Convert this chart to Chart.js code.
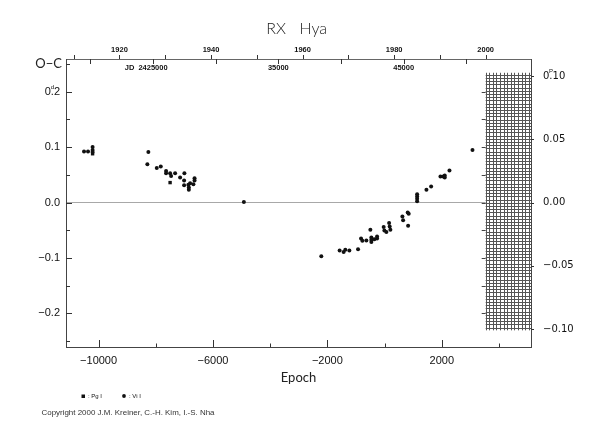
<!DOCTYPE html>
<html>
<head>
<meta charset="utf-8">
<title>RX Hya O-C</title>
<script src="https://cdn.jsdelivr.net/npm/chart.js@4"></script>
<style>
  html, body { margin: 0; padding: 0; background: #fff; }
  #wrap { width: 590px; height: 425px; }
</style>
</head>
<body>
<div id="wrap"><canvas id="chart" width="590" height="425"></canvas></div>
<script>
// ---- data (epoch, O-C in days) ----
// Vi I = visual minima (circles), Pg I = photographic minima (squares)
const viEpoch = [-10510, -10370, -10210, -10210, -10210, -8260, -8295, -7966, -7826, -7640,
  -7640, -7500, -7465, -7325, -7150, -7000, -7010, -7010, -6860, -6845,
  -6845, -6800, -6685, -6645, -6645, -4920, -2213, -1572, -1432, -1373,
  -1232, -928, -823, -777, -637, -497, -462, -462, -462, -357,
  -263, -263, -32, -7, 63, 158, 179, 203, 623, 648,
  809, 844, 823, 1138, 1138, 1138, 1138, 1464, 1628, 1954,
  2048, 2104, 2104, 2269, 3074];
const viOC = [0.092, 0.092, 0.100, 0.095, 0.091, 0.091, 0.069, 0.0625, 0.065, 0.057,
  0.053, 0.053, 0.048, 0.053, 0.045, 0.053, 0.040, 0.031, 0.032, 0.027,
  0.023, 0.035, 0.033, 0.044, 0.040, 0.001, -0.097, -0.0865, -0.089, -0.085,
  -0.0865, -0.084, -0.065, -0.069, -0.0685, -0.049, -0.063, -0.067, -0.071, -0.066,
  -0.065, -0.061, -0.044, -0.0505, -0.053, -0.037, -0.043, -0.049, -0.025, -0.032,
  -0.018, -0.020, -0.042, 0.015, 0.011, 0.007, 0.0025, 0.023, 0.029, 0.047,
  0.047, 0.049, 0.045, 0.058, 0.095];
const pgEpoch = [-10210, -7500];
const pgOC = [0.088, 0.036];

// ---- axes ----
const epochMin = -11140, epochMax = 5120;
const ocMin = -0.2605, ocMax = 0.2589;
const epochLabels = [-10000, -6000, -2000, 2000];
const epochTicks = [-10000, -8000, -6000, -4000, -2000, 0, 2000, 4000];
const ocLabels = [-0.2, -0.1, 0, 0.1, 0.2];
const ocTicks = [-0.25, -0.2, -0.15, -0.1, -0.05, 0, 0.05, 0.1, 0.15, 0.2, 0.25];
const phaseLabels = [-0.10, -0.05, 0, 0.05, 0.10];
const yearTicks = [1910, 1920, 1930, 1940, 1950, 1960, 1970, 1980, 1990, 2000, 2010];
const yearLabels = [1920, 1940, 1960, 1980, 2000];
const jdTicks = [2420000, 2425000, 2430000, 2435000, 2440000, 2445000, 2450000];
const jdLabels = [2425000, 2435000, 2445000];

// ephemeris behind the top (JD / year) and right (phase) axes
const T0 = 2443477;
const PERIOD = 2.28168;
const hatchFromYear = 2000;   // shaded "future" block
const hatchPhase = 0.101;

const jdToEpoch = jd => (jd - T0) / PERIOD;
const yearToEpoch = y => jdToEpoch(2451544.5 + 365.25 * (y - 2000));
const minus = s => s.replace('-', '\u2212');

const SANS = '"Liberation Sans", Arial, sans-serif';
const ROUND = 'Lato, "DejaVu Sans", sans-serif';

function line(ctx, x1, y1, x2, y2) {
  ctx.beginPath();
  ctx.moveTo(x1, y1);
  ctx.lineTo(x2, y2);
  ctx.stroke();
}
const px = v => Math.round(v) + 0.5;

// hatched block, tick marks and loose texts
const decor = {
  id: 'decor',
  afterDatasetsDraw(chart) {
    const {ctx, chartArea: a, scales} = chart;
    const x0 = scales.x.getPixelForValue(yearToEpoch(hatchFromYear));
    const x1 = a.right;
    const y0 = scales.y2.getPixelForValue(hatchPhase);
    const y1 = scales.y2.getPixelForValue(-hatchPhase);
    ctx.save();
    ctx.fillStyle = '#fff';
    ctx.fillRect(x0, y0, x1 - x0, y1 - y0);
    ctx.strokeStyle = '#555';
    ctx.lineWidth = 1;
    for (let x = x0; x <= x1 - 1; x += 3.6) line(ctx, px(x), y0 - 2, px(x), y1);
    for (let y = y0; y <= y1; y += 3.2) line(ctx, x0, px(y), x1, px(y));
    // little ticks on the left edge of the block
    ctx.strokeStyle = '#444';
    ocTicks.forEach(v => {
      const y = scales.y.getPixelForValue(v);
      if (y > y0 && y < y1) line(ctx, x0 - 4, px(y), x0, px(y));
    });
    ctx.restore();
  },
  afterDraw(chart) {
    const {ctx, chartArea: a, scales} = chart;
    ctx.save();
    ctx.strokeStyle = '#333';
    ctx.lineWidth = 1;
    // left axis, inward
    ocTicks.forEach(v => {
      const y = px(scales.y.getPixelForValue(v));
      const major = ocLabels.some(l => Math.abs(l - v) < 1e-9);
      line(ctx, a.left, y, a.left + (major ? 6 : 4), y);
    });
    // bottom axis, inward
    epochTicks.forEach(v => {
      const x = px(scales.x.getPixelForValue(v));
      const major = epochLabels.includes(v);
      line(ctx, x, a.bottom, x, a.bottom - (major ? 7 : 3.5));
    });
    // top axis: years up, JD down
    yearTicks.forEach(yr => {
      const x = px(scales.x.getPixelForValue(yearToEpoch(yr)));
      if (x <= a.right) line(ctx, x, a.top, x, a.top - 4);
    });
    jdTicks.forEach(jd => {
      const x = px(scales.x.getPixelForValue(jdToEpoch(jd)));
      line(ctx, x, a.top, x, a.top + 5);
    });
    // right axis, outward
    phaseLabels.forEach(v => {
      const y = px(scales.y2.getPixelForValue(v));
      line(ctx, a.right, y, a.right + 3, y);
    });

    ctx.fillStyle = '#111';
    ctx.textBaseline = 'middle';
    // JD labels under the top axis
    ctx.font = 'bold 7.5px ' + SANS;
    ctx.textAlign = 'center';
    jdLabels.forEach((jd, i) => {
      const x = scales.x.getPixelForValue(jdToEpoch(jd));
      const txt = i === 0 ? String(jd) : String(jd).slice(2);
      ctx.fillText(txt, x, 68);
      if (i === 0) {
        ctx.textAlign = 'right';
        ctx.fillText('JD', x - ctx.measureText(txt).width / 2 - 4, 68);
        ctx.textAlign = 'center';
      }
    });

    // superscript units over the top labels
    ctx.font = '11px ' + SANS;
    const yTop = scales.y.getPixelForValue(0.2);
    const dotL = 60 - ctx.measureText('2').width - ctx.measureText('.').width / 2;
    ctx.font = '10px "DejaVu Sans", sans-serif';
    const pTop = scales.y2.getPixelForValue(0.10);
    const dotR = a.right + 12 + ctx.measureText('0').width + ctx.measureText('.').width / 2;
    ctx.font = '6px ' + SANS;
    ctx.fillText('d', dotL, yTop - 4.5);
    ctx.fillText('P', dotR, pTop - 4.5);

    // title and axis names
    ctx.fillStyle = '#222';
    ctx.textBaseline = 'alphabetic';
    ctx.font = '300 16px ' + ROUND;
    ctx.textAlign = 'right';
    ctx.fillText('RX', 286, 33.5);
    ctx.textAlign = 'left';
    ctx.fillText('Hya', 299.5, 33.5);
    ctx.font = '13px ' + ROUND;
    ctx.textAlign = 'right';
    ctx.fillText('O\u2212C', 62, 68);
    ctx.textAlign = 'center';
    ctx.fillText('Epoch', (a.left + a.right) / 2, 382);

    // legend
    ctx.fillStyle = '#111';
    ctx.fillRect(81.5, 394.5, 3.5, 3.5);
    ctx.beginPath();
    ctx.arc(124, 396, 1.9, 0, Math.PI * 2);
    ctx.fill();
    ctx.font = '6px ' + SANS;
    ctx.textAlign = 'left';
    ctx.textBaseline = 'middle';
    ctx.fillText(': Pg I', 88, 396.5);
    ctx.fillText(': Vi I', 129, 396.5);

    ctx.font = '8px ' + SANS;
    ctx.fillStyle = '#333';
    ctx.fillText('Copyright 2000 J.M. Kreiner, C.-H. Kim, I.-S. Nha', 41.5, 412.5, 173);
    ctx.restore();
  }
};

const toPoints = (xs, ys) => xs.map((x, i) => ({x: x, y: ys[i]}));

new Chart(document.getElementById('chart'), {
  type: 'scatter',
  data: {
    datasets: [
      {
        label: 'Vi I',
        data: toPoints(viEpoch, viOC),
        pointStyle: 'circle',
        pointRadius: 2,
        backgroundColor: '#111',
        borderColor: '#111',
        borderWidth: 0,
        yAxisID: 'y'
      },
      {
        label: 'Pg I',
        data: toPoints(pgEpoch, pgOC),
        pointStyle: 'rect',
        pointRadius: 2.4,
        backgroundColor: '#111',
        borderColor: '#111',
        borderWidth: 0,
        yAxisID: 'y'
      }
    ]
  },
  options: {
    responsive: false,
    animation: false,
    devicePixelRatio: 1,
    layout: { padding: 0 },
    plugins: { legend: { display: false }, tooltip: { enabled: false } },
    scales: {
      x: {
        type: 'linear',
        position: 'bottom',
        min: epochMin,
        max: epochMax,
        afterBuildTicks: s => { s.ticks = epochLabels.map(v => ({value: v})); },
        afterFit: s => { s.height = 78; },
        grid: { display: false, drawTicks: false },
        border: { display: true, color: '#444', width: 1 },
        ticks: {
          autoSkip: false, maxRotation: 0, padding: 7, color: '#111',
          font: { family: SANS, size: 11 },
          callback: v => minus(String(v))
        }
      },
      xTop: {
        type: 'linear',
        position: 'top',
        min: epochMin,
        max: epochMax,
        afterBuildTicks: s => { s.ticks = yearLabels.map(y => ({value: yearToEpoch(y)})); },
        afterFit: s => { s.height = 59; },
        grid: { display: false, drawTicks: false },
        border: { display: true, color: '#666', width: 1 },
        ticks: {
          autoSkip: false, maxRotation: 0, padding: 4.5, color: '#111',
          font: { family: SANS, size: 7.5, weight: 'bold' },
          callback: (v, i) => String(yearLabels[i])
        }
      },
      y: {
        type: 'linear',
        position: 'left',
        min: ocMin,
        max: ocMax,
        afterBuildTicks: s => { s.ticks = ocLabels.map(v => ({value: v})); },
        afterFit: s => { s.width = 66; },
        grid: {
          drawTicks: false,
          color: c => (c.tick && c.tick.value === 0 ? '#a8a8a8' : 'rgba(0,0,0,0)')
        },
        border: { display: true, color: '#444', width: 1 },
        ticks: {
          padding: 6, color: '#111',
          font: { family: SANS, size: 11 },
          callback: v => minus(v.toFixed(1))
        }
      },
      y2: {
        type: 'linear',
        position: 'right',
        min: ocMin / PERIOD,
        max: ocMax / PERIOD,
        afterBuildTicks: s => { s.ticks = phaseLabels.map(v => ({value: v})); },
        afterFit: s => { s.width = 59; },
        grid: { display: false, drawTicks: false },
        border: { display: true, color: '#444', width: 1 },
        ticks: {
          padding: 12, color: '#111',
          font: { family: '"DejaVu Sans", sans-serif', size: 10 },
          callback: v => minus(v.toFixed(2))
        }
      }
    }
  },
  plugins: [decor]
});
</script>
</body>
</html>
